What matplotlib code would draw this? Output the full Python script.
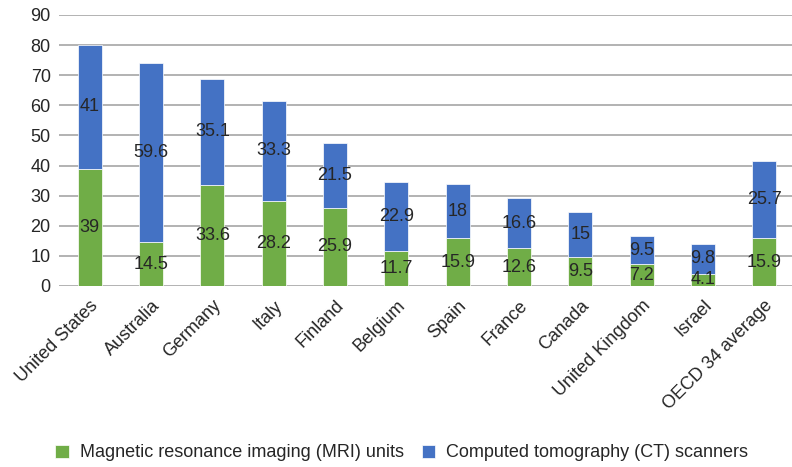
import matplotlib
matplotlib.use("Agg")
import matplotlib.pyplot as plt
import numpy as np

countries = ["United States", "Australia", "Germany", "Italy", "Finland", "Belgium",
             "Spain", "France", "Canada", "United Kingdom", "Israel", "OECD 34 average"]
mri = [39, 14.5, 33.6, 28.2, 25.9, 11.7, 15.9, 12.6, 9.5, 7.2, 4.1, 15.9]
ct = [41, 59.6, 35.1, 33.3, 21.5, 22.9, 18, 16.6, 15, 9.5, 9.8, 25.7]
yticks = list(range(0, 100, 10))

green = "#70AD47"
blue = "#4472C4"
text_c = "#262626"
fs = 13

plt.rcParams["font.family"] = ["Liberation Sans", "DejaVu Sans"]

fig = plt.figure(figsize=(7.92, 4.67), dpi=100)
ax = fig.add_axes([0.0745, 0.3876, 0.9255, 0.968 - 0.3876])

x = np.arange(len(countries))
w = 0.39
b1 = ax.bar(x, mri, w, color=green, edgecolor="white", linewidth=0.5, zorder=3,
            label="Magnetic resonance imaging (MRI) units")
b2 = ax.bar(x, ct, w, bottom=mri, color=blue, edgecolor="white", linewidth=0.5, zorder=3,
            label="Computed tomography (CT) scanners")

for xi, m, c in zip(x, mri, ct):
    ax.text(xi, m / 2, f"{m:g}", ha="center", va="center", fontsize=fs, color=text_c, zorder=4)
    ax.text(xi, m + c / 2, f"{c:g}", ha="center", va="center", fontsize=fs, color=text_c, zorder=4)

ax.set_xlim(-0.5, 11.45)
ax.set_ylim(0, 90)
ax.set_yticks(yticks)
ax.yaxis.grid(True, color="#A6A6A6", linewidth=1.2, zorder=0)
ax.set_axisbelow(True)
for s in ax.spines.values():
    s.set_visible(False)
ax.tick_params(axis="both", length=0, labelsize=fs, labelcolor=text_c)
ax.tick_params(axis="y", pad=6)
ax.set_xticks(x)
ax.set_xticklabels(countries, rotation=45, ha="right", rotation_mode="anchor")
ax.tick_params(axis="x", pad=8)

leg = fig.legend(handles=[b1, b2], loc="center", bbox_to_anchor=(0.507, 0.03),
                 ncol=2, frameon=False, fontsize=fs, handlelength=0.75, handleheight=0.75,
                 columnspacing=1.0, handletextpad=0.6)
for t in leg.get_texts():
    t.set_color(text_c)

fig.savefig("out.png", dpi=100)
